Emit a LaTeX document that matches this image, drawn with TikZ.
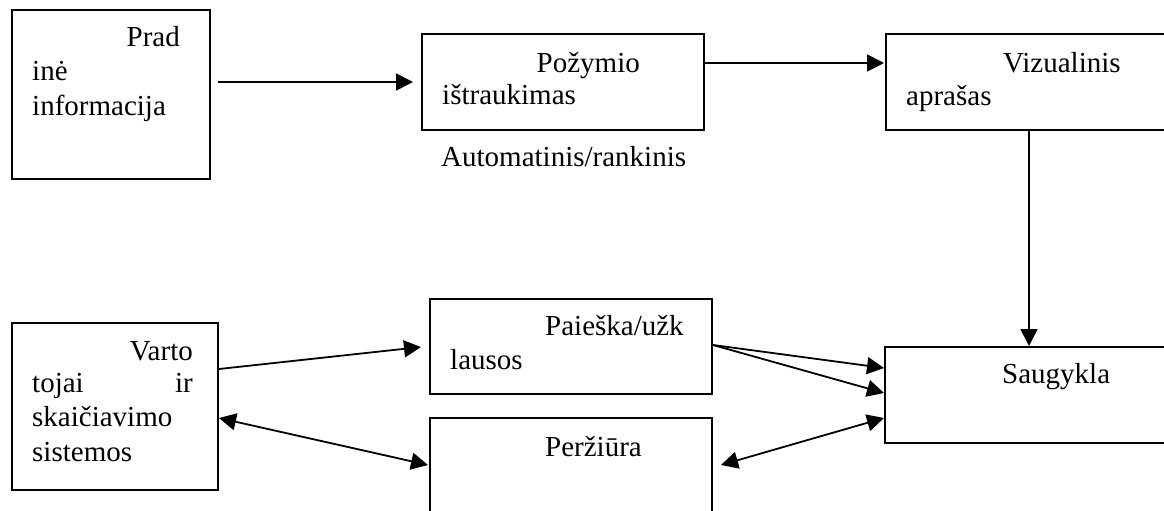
\documentclass[tikz,border=0pt]{standalone}
\usepackage{fontspec}
\setmainfont{Liberation Serif}
\usetikzlibrary{arrows.meta}
\begin{document}
\begin{tikzpicture}[x=1pt,y=-1pt,
  box/.style={draw,line width=2pt,rectangle,inner sep=0pt,anchor=north west},
  txt/.style={inner sep=0pt,font=\fontsize{29}{34}\selectfont},
  arr/.style={line width=1.8pt,-{Triangle[length=17pt,width=17pt]}},
  darr/.style={line width=1.8pt,{Triangle[length=17pt,width=17pt]}-{Triangle[length=17pt,width=17pt]}}]
\useasboundingbox (0,0) rectangle (1164,511);
\clip (0,0) rectangle (1164,511);
% boxes
\node[box,minimum width=198pt,minimum height=169pt] (b1) at (11,9) {};
\node[box,minimum width=282pt,minimum height=96pt] (b2) at (421,33) {};
\node[box,minimum width=300pt,minimum height=96pt] (b3) at (885,33) {};
\node[box,minimum width=206pt,minimum height=167pt] (b4) at (11,322) {};
\node[box,minimum width=282pt,minimum height=95pt] (b5) at (429,298) {};
\node[box,minimum width=282pt,minimum height=120pt] (b6) at (429,417) {};
\node[box,minimum width=300pt,minimum height=96pt] (b7) at (884,346) {};
% texts
\node[txt,anchor=base east] (t1a) at (180,47) {Prad};
\node[txt,anchor=base west] (t1b) at (32,81) {inė};
\node[txt,anchor=base west] (t1c) at (32,115) {informacija};
\node[txt,anchor=base east] (t2a) at (640,72) {Požymio};
\node[txt,anchor=base west] (t2b) at (442,104) {ištraukimas};
\node[txt,anchor=base west] (t2c) at (441,166) {Automatinis/rankinis};
\node[txt,anchor=base west] (t3a) at (1003,72) {Vizualinis};
\node[txt,anchor=base west] (t3b) at (906,105) {aprašas};
\node[txt,anchor=base east] (t4a) at (193,360) {Varto};
\node[txt,anchor=base west] (t4b) at (32,392) {tojai};
\node[txt,anchor=base east] (t4c) at (193,392) {ir};
\node[txt,anchor=base west] (t4d) at (32,426) {skaičiavimo};
\node[txt,anchor=base west] (t4e) at (32,461) {sistemos};
\node[txt,anchor=base west] (t5a) at (545,335) {Paieška/užk};
\node[txt,anchor=base west] (t5b) at (450,369) {lausos};
\node[txt,anchor=base west] (t6a) at (545,456) {Peržiūra};
\node[txt,anchor=base west] (t7a) at (1002,383) {Saugykla};
% connectors
\draw[arr] ([shift={(7,73)}]b1.north east) -- ([shift={(-8,49)}]b2.north west);
\draw[arr] ([shift={(0,30)}]b2.north east) -- ([shift={(-1,30)}]b3.north west);
\draw[arr] ([shift={(144,0)}]b3.south west) -- ([shift={(145,0)}]b7.north west);
\draw[arr] ([shift={(0,47)}]b4.north east) -- ([shift={(-8,49)}]b5.north west);
\draw[darr] ([shift={(0,96)}]b4.north east) -- ([shift={(-1,48)}]b6.north west);
\draw[arr] ([shift={(0,47)}]b5.north east) -- ([shift={(0,22)}]b7.north west);
\draw[arr] ([shift={(0,47)}]b5.north east) -- ([shift={(0,47)}]b7.north west);
\draw[darr] ([shift={(8,48)}]b6.north east) -- ([shift={(0,72)}]b7.north west);
\end{tikzpicture}
\end{document}
